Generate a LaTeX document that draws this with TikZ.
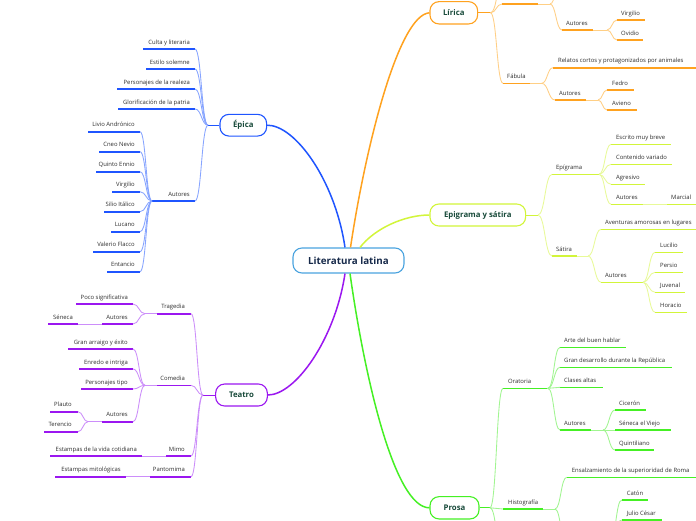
\documentclass[tikz,border=0pt]{standalone}
\usepackage{fontspec}
\setmainfont{Open Sans}
\usetikzlibrary{calc}
\definecolor{cblue}{HTML}{1F55FF}
\definecolor{lblue}{HTML}{86A4FF}
\definecolor{cpur}{HTML}{9B17F0}
\definecolor{lpur}{HTML}{CC8EFA}
\definecolor{corg}{HTML}{FFA21F}
\definecolor{lorg}{HTML}{FFCF85}
\definecolor{cyel}{HTML}{D2F53A}
\definecolor{lyel}{HTML}{E8FA98}
\definecolor{cgrn}{HTML}{45F024}
\definecolor{lgrn}{HTML}{A0F590}
\definecolor{ccen}{HTML}{4AA3DF}
\definecolor{tgreen}{HTML}{184A3A}
\definecolor{tnavy}{HTML}{172A4A}
\definecolor{txt}{HTML}{2E2E2E}
\tikzset{
 lbl/.style={font=\fontsize{5.9}{7}\selectfont, text=txt, inner sep=0pt},
 mainbox/.style={draw=#1, line width=1.1pt, rounded corners=9pt, fill=white,
   font=\fontsize{7.8}{9}\selectfont\bfseries, text=tgreen, inner sep=0pt},
 ul/.style={draw=#1, line width=1.6pt},
 cn/.style={draw=#1, line width=0.85pt},
 mc/.style={draw=#1, line width=1.5pt},
 hv/.style={to path={let \p1=(\tikztostart), \p2=(\tikztotarget) in
   .. controls ({(\x1+\x2)/2},\y1) and ({(\x1+\x2)/2},\y2) .. (\tikztotarget)}}
}
% color, name, x1, x2, y, anchor, text x, text
\newcommand\tp[8]{%
 \coordinate (#2-l) at (#3,#5);
 \coordinate (#2-r) at (#4,#5);
 \node[lbl, anchor=base #6] (#2) at (#7,#5-5) {#8};
 \draw[ul=#1] (#2-l) -- (#2-r);
}
\begin{document}
\begin{tikzpicture}[x=1pt,y=-1pt]
\useasboundingbox (0,0) rectangle (696,520);
\clip (0,0) rectangle (696,520);
\fill[white] (0,0) rectangle (696,520);

% ---------- main nodes
\node[mainbox=ccen, minimum width=111pt, minimum height=25pt, text=tnavy,
  font=\fontsize{9.8}{11}\selectfont\bfseries] (root) at (348.5,260.5) {Literatura latina};
\node[mainbox=cblue, minimum width=46.7pt, minimum height=21.7pt] (epica) at (243.3,125.2) {Épica};
\node[mainbox=cpur, minimum width=51.7pt, minimum height=22pt] (teatro) at (241.5,395) {Teatro};
\node[mainbox=corg, minimum width=47.7pt, minimum height=22.3pt] (lirica) at (453.8,12.8) {Lírica};
\node[mainbox=cyel, minimum width=95.7pt, minimum height=22pt] (epig) at (477.8,215) {Epigrama y sátira};
\node[mainbox=cgrn, minimum width=49pt, minimum height=22.3pt] (prosa) at (454.5,507.8) {Prosa};

\draw[mc=cblue] ([xshift=-3.5pt]root.north) .. controls (335,180) and (295,125) .. (epica.east);
\draw[mc=corg] ([xshift=2pt]root.north) .. controls (365,150) and (398,15) .. (lirica.west);
\draw[mc=cyel] ([xshift=11.5pt]root.north) .. controls (375,228) and (405,215) .. (epig.west);
\draw[mc=cpur] ([xshift=-3.5pt]root.south) .. controls (335,340) and (295,395) .. (teatro.east);
\draw[mc=cgrn] ([xshift=1.5pt]root.south) .. controls (365,380) and (395,508) .. (prosa.west);

% ---------- Épica
\coordinate (E0) at (208,125.2);
\draw[cn=cblue] (epica.west) -- (E0);
\tp{cblue}{e1}{143}{195}{49}{east}{190}{Culta y literaria}
\tp{cblue}{e2}{146}{195}{69}{east}{190}{Estilo solemne}
\tp{cblue}{e3}{117}{195}{89}{east}{190}{Personajes de la realeza}
\tp{cblue}{e4}{118}{195}{109}{east}{190}{Glorificación de la patria}
\tp{cblue}{e5}{152}{195}{201}{east}{190}{Autores}
\foreach \q in {e1,e2,e3,e4,e5} \draw[cn=lblue] (E0) to[hv] (\q-r);
\tp{cblue}{a1}{88}{140}{131.7}{east}{135}{Livio Andrónico}
\tp{cblue}{a2}{99}{140}{151.7}{east}{135}{Cneo Nevio}
\tp{cblue}{a3}{96}{140}{171.7}{east}{135}{Quinto Ennio}
\tp{cblue}{a4}{112}{140}{191.7}{east}{135}{Virgilio}
\tp{cblue}{a5}{104}{140}{211.7}{east}{135}{Silio Itálico}
\tp{cblue}{a6}{111}{140}{231.7}{east}{135}{Lucano}
\tp{cblue}{a7}{93}{140}{251.7}{east}{135}{Valerio Flacco}
\tp{cblue}{a8}{107}{140}{271.7}{east}{135}{Entancio}
\foreach \q in {a1,a2,a3,a4,a5,a6,a7,a8} \draw[cn=lblue] (e5-l) to[hv] (\q-r);

% ---------- Teatro
\coordinate (T0) at (203,395);
\draw[cn=cpur] (teatro.west) -- (T0);
\tp{cpur}{t1}{157}{191}{313.7}{east}{185}{Tragedia}
\tp{cpur}{t2}{157}{191}{385.3}{east}{185}{Comedia}
\tp{cpur}{t3}{166}{191}{456}{east}{185}{Mimo}
\tp{cpur}{t4}{150}{191}{476.7}{east}{185}{Pantomima}
\foreach \q in {t1,t2,t3,t4} \draw[cn=lpur] (T0) to[hv] (\q-r);
\coordinate (T1) at (145,313.7);
\draw[cn=lpur] (t1-l) -- (T1);
\tp{cpur}{t11}{76}{133}{304}{east}{128}{Poco significativa}
\tp{cpur}{t12}{102}{133}{324}{east}{128}{Autores}
\foreach \q in {t11,t12} \draw[cn=lpur] (T1) to[hv] (\q-r);
\tp{cpur}{t121}{48}{78}{324}{east}{73}{Séneca}
\draw[cn=lpur] (t12-l) -- (t121-r);
\coordinate (T2) at (145,385.3);
\draw[cn=lpur] (t2-l) -- (T2);
\tp{cpur}{t21}{68}{133}{349}{east}{128}{Gran arraigo y éxito}
\tp{cpur}{t22}{79}{133}{369}{east}{128}{Enredo e intriga}
\tp{cpur}{t23}{81}{133}{389}{east}{128}{Personajes tipo}
\tp{cpur}{t24}{102}{133}{421.7}{east}{128}{Autores}
\foreach \q in {t21,t22,t23,t24} \draw[cn=lpur] (T2) to[hv] (\q-r);
\coordinate (T24) at (88,421.7);
\draw[cn=lpur] (t24-l) -- (T24);
\tp{cpur}{t241}{50}{78}{411.7}{east}{72}{Plauto}
\tp{cpur}{t242}{44}{78}{431.7}{east}{72}{Terencio}
\foreach \q in {t241,t242} \draw[cn=lpur] (T24) to[hv] (\q-r);
\tp{cpur}{t31}{50}{142}{456}{east}{137}{Estampas de la vida cotidiana}
\draw[cn=lpur] (t3-l) -- (t31-r);
\tp{cpur}{t41}{55}{126}{476.7}{east}{121}{Estampas mitológicas}
\draw[cn=lpur] (t4-l) -- (t41-r);

% ---------- Lírica
\coordinate (L0) at (490.5,12.8);
\draw[cn=corg] (lirica.east) -- (L0);
\coordinate (l1-l) at (502,4);
\coordinate (l1-r) at (538,4);
\draw[ul=corg] (l1-l) -- (l1-r);
\coordinate (Lup) at (503,-18);
\draw[cn=lorg] (L0) to[hv] (l1-l);
\draw[cn=lorg] (L0) to[hv] (Lup);
\coordinate (L1) at (550,4);
\draw[cn=lorg] (l1-r) -- (L1);
\coordinate (L1up) at (562,-24);
\draw[cn=lorg] (L1) to[hv] (L1up);
\tp{corg}{l1a}{562}{593}{30}{west}{566}{Autores}
\draw[cn=lorg] (L1) to[hv] (l1a-l);
\coordinate (L1a) at (607,30);
\draw[cn=lorg] (l1a-r) -- (L1a);
\tp{corg}{l1a1}{617}{645}{20}{west}{621}{Virgilio}
\tp{corg}{l1a2}{617}{643}{40}{west}{621}{Ovidio}
\foreach \q in {l1a1,l1a2} \draw[cn=lorg] (L1a) to[hv] (\q-l);
\tp{corg}{l2}{503}{530}{83.3}{west}{507}{Fábula}
\draw[cn=lorg] (L0) to[hv] (l2-l);
\coordinate (L2) at (541.7,83.3);
\draw[cn=lorg] (l2-r) -- (L2);
\tp{corg}{l21}{553}{700}{67.7}{west}{558}{Relatos cortos y protagonizados por animales}
\tp{corg}{l22}{555}{586}{100}{west}{559}{Autores}
\foreach \q in {l21,l22} \draw[cn=lorg] (L2) to[hv] (\q-l);
\coordinate (L22) at (598,100);
\draw[cn=lorg] (l22-r) -- (L22);
\tp{corg}{l221}{607}{634}{90}{west}{612}{Fedro}
\tp{corg}{l222}{607}{637}{110}{west}{612}{Avieno}
\foreach \q in {l221,l222} \draw[cn=lorg] (L22) to[hv] (\q-l);

% ---------- Epigrama y sátira
\coordinate (Y0) at (538,215);
\draw[cn=cyel] (epig.east) -- (Y0);
\tp{cyel}{y1}{552}{599}{174.3}{west}{556}{Epígrama}
\tp{cyel}{y2}{552}{577}{256}{west}{556}{Sátira}
\foreach \q in {y1,y2} \draw[cn=lyel] (Y0) to[hv] (\q-l);
\tp{cyel}{y11}{611}{670.7}{144.3}{west}{616}{Escrito muy breve}
\tp{cyel}{y12}{611}{671.7}{164.3}{west}{616}{Contenido variado}
\tp{cyel}{y13}{611}{645}{184.3}{west}{616}{Agresivo}
\tp{cyel}{y14}{611}{642.7}{204.3}{west}{616}{Autores}
\foreach \q in {y11,y12,y13,y14} \draw[cn=lyel] (y1-r) to[hv] (\q-l);
\tp{cyel}{y141}{666.7}{700}{204.3}{west}{671}{Marcial}
\draw[cn=lyel] (y14-r) -- (y141-l);
\coordinate (Y2) at (588,256);
\draw[cn=lyel] (y2-r) -- (Y2);
\tp{cyel}{y21}{601}{700}{229.3}{west}{605}{Aventuras amorosas en lugares}
\tp{cyel}{y22}{601}{643}{282.3}{west}{605}{Autores}
\foreach \q in {y21,y22} \draw[cn=lyel] (Y2) to[hv] (\q-l);
\tp{cyel}{y221}{655}{682.7}{252.3}{west}{660}{Lucilio}
\tp{cyel}{y222}{655}{682.7}{272.3}{west}{660}{Persio}
\tp{cyel}{y223}{655}{685}{292.3}{west}{660}{Juvenal}
\tp{cyel}{y224}{655}{687}{312.3}{west}{660}{Horacio}
\foreach \q in {y221,y222,y223,y224} \draw[cn=lyel] (y22-r) to[hv] (\q-l);

% ---------- Prosa
\coordinate (P0) at (490,507.8);
\draw[cn=cgrn] (prosa.east) -- (P0);
\tp{cgrn}{p1}{503}{546.7}{388.3}{west}{508}{Oratoria}
\tp{cgrn}{p2}{503}{543}{509}{west}{508}{Histografía}
\coordinate (Pdn) at (503,556);
\foreach \q in {p1-l,p2-l,Pdn} \draw[cn=lgrn] (P0) to[hv] (\q);
\coordinate (P1) at (548,388.3);
\draw[cn=lgrn] (p1-r) -- (P1);
\tp{cgrn}{p11}{560}{626}{347.3}{west}{564}{Arte del buen hablar}
\tp{cgrn}{p12}{560}{671.7}{367.3}{west}{564}{Gran desarrollo durante la República}
\tp{cgrn}{p13}{560}{602.7}{387.3}{west}{564}{Clases altas}
\tp{cgrn}{p14}{560}{590.7}{430}{west}{564}{Autores}
\foreach \q in {p11,p12,p13,p14} \draw[cn=lgrn] (P1) to[hv] (\q-l);
\coordinate (P14) at (603,430);
\draw[cn=lgrn] (p14-r) -- (P14);
\tp{cgrn}{p141}{615}{645.7}{410}{west}{619}{Cicerón}
\tp{cgrn}{p142}{615}{671}{430}{west}{619}{Séneca el Viejo}
\tp{cgrn}{p143}{615}{654}{450}{west}{619}{Quintiliano}
\foreach \q in {p141,p142,p143} \draw[cn=lgrn] (P14) to[hv] (\q-l);
\coordinate (P2) at (555,509);
\draw[cn=lgrn] (p2-r) -- (P2);
\tp{cgrn}{p21}{566.7}{700}{477.3}{west}{571.7}{Ensalzamiento de la superioridad de Roma}
\coordinate (P2dn) at (567,548);
\foreach \q in {p21-l,P2dn} \draw[cn=lgrn] (P2) to[hv] (\q);
\coordinate (P22) at (610,542);
\tp{cgrn}{p221}{621.7}{648}{500}{west}{626.7}{Catón}
\tp{cgrn}{p222}{621.7}{661.7}{520}{west}{626.7}{Julio César}
\foreach \q in {p221,p222} \draw[cn=lgrn] (P22) to[hv] (\q-l);
\end{tikzpicture}
\end{document}
